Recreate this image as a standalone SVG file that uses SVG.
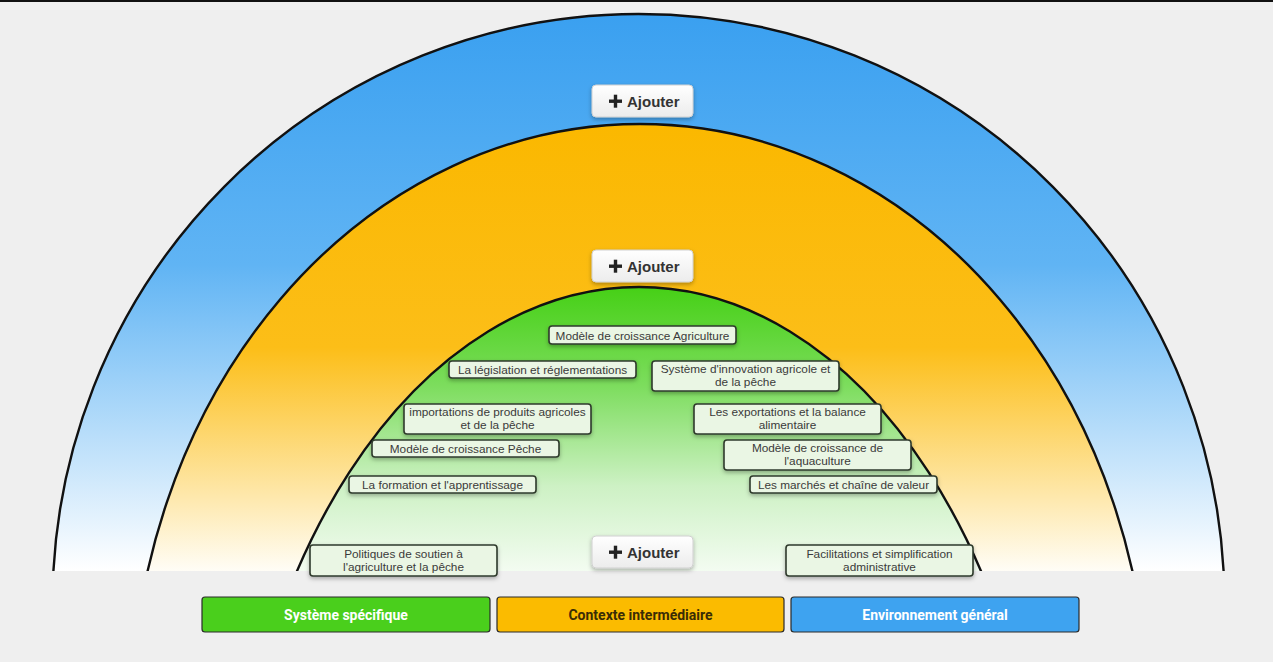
<svg xmlns="http://www.w3.org/2000/svg" width="1273" height="662" viewBox="0 0 1273 662">
  <defs>
    <linearGradient id="gBlue" gradientUnits="userSpaceOnUse" x1="0" y1="14" x2="0" y2="571">
      <stop offset="0" stop-color="#3aa0f0"/>
      <stop offset="0.45" stop-color="#60b4f4"/>
      <stop offset="1" stop-color="#ffffff"/>
    </linearGradient>
    <linearGradient id="gOrange" gradientUnits="userSpaceOnUse" x1="0" y1="124" x2="0" y2="571">
      <stop offset="0" stop-color="#fbb800"/>
      <stop offset="0.5" stop-color="#fcbe18"/>
      <stop offset="1" stop-color="#fffdf6"/>
    </linearGradient>
    <linearGradient id="gGreen" gradientUnits="userSpaceOnUse" x1="0" y1="287" x2="0" y2="571">
      <stop offset="0" stop-color="#46d016"/>
      <stop offset="0.35" stop-color="#7ddd5e"/>
      <stop offset="0.7" stop-color="#cdf1c4"/>
      <stop offset="1" stop-color="#f3fcf1"/>
    </linearGradient>
    <linearGradient id="gBtn" x1="0" y1="0" x2="0" y2="1">
      <stop offset="0" stop-color="#ffffff"/>
      <stop offset="1" stop-color="#ececec"/>
    </linearGradient>
    <clipPath id="clipArc">
      <rect x="0" y="0" width="1273" height="571"/>
    </clipPath>
    <filter id="shadow" x="-10%" y="-30%" width="120%" height="180%">
      <feDropShadow dx="0" dy="2" stdDeviation="2" flood-color="#000" flood-opacity="0.3"/>
    </filter>
  </defs>
  <style>
    .arc { stroke: #111; stroke-width: 2.4; }
    .box { fill: #eaf6e4; stroke: #2e3a2c; stroke-width: 1.6; filter: url(#shadow); }
    .lbl { font-family: "Liberation Sans", Arial, sans-serif; font-size: 11.8px; fill: #3a3a3a; text-anchor: middle; }
    .btn { fill: url(#gBtn); stroke: #d0d0d0; stroke-width: 1; filter: url(#shadow); }
    .btnTxt { font-family: "Liberation Sans", Arial, sans-serif; font-size: 15px; font-weight: bold; fill: #333; }
    .plus { fill: #222; }
    .leg { stroke: #2a2a2a; stroke-width: 1.2; }
    .legTxt { font-family: "Roboto", "Liberation Sans", Arial, sans-serif; font-size: 14px; font-weight: bold; text-anchor: middle; }
  </style>

  <rect x="0" y="0" width="1273" height="662" fill="#efefef"/>
  <rect x="0" y="0" width="1273" height="2" fill="#111"/>

  <g id="layers" clip-path="url(#clipArc)">
    <g id="environnement-general">
      <ellipse class="arc" cx="638.5" cy="604" rx="586" ry="590" fill="url(#gBlue)"/>
    </g>
    <g id="contexte-intermediaire">
      <ellipse class="arc" cx="640" cy="723" rx="509" ry="599" fill="url(#gOrange)"/>
    </g>
    <g id="systeme-specifique">
      <ellipse class="arc" cx="639" cy="921" rx="410" ry="634" fill="url(#gGreen)"/>
    </g>
  </g>

  <g id="connectors"></g>

  <g id="btn-env">
    <rect class="btn" x="592" y="85" width="101" height="32" rx="4"/>
    <rect class="plus" x="609" y="99.5" width="13" height="3.4"/>
    <rect class="plus" x="613.8" y="94.7" width="3.4" height="13"/>
    <text class="btnTxt" x="627" y="106.5">Ajouter</text>
  </g>
  <g id="btn-ctx">
    <rect class="btn" x="592" y="250" width="101" height="32" rx="4"/>
    <rect class="plus" x="609" y="264.5" width="13" height="3.4"/>
    <rect class="plus" x="613.8" y="259.7" width="3.4" height="13"/>
    <text class="btnTxt" x="627" y="271.5">Ajouter</text>
  </g>
  <g id="btn-sys">
    <rect class="btn" x="592" y="536" width="101" height="32" rx="4"/>
    <rect class="plus" x="609" y="550.5" width="13" height="3.4"/>
    <rect class="plus" x="613.8" y="545.7" width="3.4" height="13"/>
    <text class="btnTxt" x="627" y="557.5">Ajouter</text>
  </g>

  <g id="n1">
    <rect class="box" x="549" y="326" width="187" height="18" rx="3"/>
    <text class="lbl" x="642.5" y="339.5">Modèle de croissance Agriculture</text>
  </g>
  <g id="n2">
    <rect class="box" x="449" y="361" width="187" height="17" rx="3"/>
    <text class="lbl" x="542.5" y="374">La législation et réglementations</text>
  </g>
  <g id="n3">
    <rect class="box" x="652" y="361" width="187" height="30" rx="3"/>
    <text class="lbl" x="745.5" y="373">Système d'innovation agricole et</text>
    <text class="lbl" x="745.5" y="386">de la pêche</text>
  </g>
  <g id="n4">
    <rect class="box" x="404" y="404" width="187" height="30" rx="3"/>
    <text class="lbl" x="497.5" y="416">importations de produits agricoles</text>
    <text class="lbl" x="497.5" y="429">et de la pêche</text>
  </g>
  <g id="n5">
    <rect class="box" x="372" y="440" width="187" height="17" rx="3"/>
    <text class="lbl" x="465.5" y="453">Modèle de croissance Pêche</text>
  </g>
  <g id="n6">
    <rect class="box" x="349" y="476" width="187" height="17" rx="3"/>
    <text class="lbl" x="442.5" y="489">La formation et l'apprentissage</text>
  </g>
  <g id="n7">
    <rect class="box" x="694" y="404" width="187" height="30" rx="3"/>
    <text class="lbl" x="787.5" y="416">Les exportations et la balance</text>
    <text class="lbl" x="787.5" y="429">alimentaire</text>
  </g>
  <g id="n8">
    <rect class="box" x="724" y="440" width="187" height="30" rx="3"/>
    <text class="lbl" x="817.5" y="452">Modèle de croissance de</text>
    <text class="lbl" x="817.5" y="465">l'aquaculture</text>
  </g>
  <g id="n9">
    <rect class="box" x="750" y="476" width="187" height="17" rx="3"/>
    <text class="lbl" x="843.5" y="489">Les marchés et chaîne de valeur</text>
  </g>
  <g id="n10">
    <rect class="box" x="310" y="545" width="187" height="31" rx="3"/>
    <text class="lbl" x="403.5" y="557.5">Politiques de soutien à</text>
    <text class="lbl" x="403.5" y="570.5">l'agriculture et la pêche</text>
  </g>
  <g id="n11">
    <rect class="box" x="786" y="545" width="187" height="31" rx="3"/>
    <text class="lbl" x="879.5" y="557.5">Facilitations et simplification</text>
    <text class="lbl" x="879.5" y="570.5">administrative</text>
  </g>

  <g id="legend">
    <g id="leg-sys">
      <rect class="leg" x="202" y="597" width="288" height="35" rx="3" fill="#4acf1c"/>
      <text class="legTxt" x="346" y="619.5" fill="#ffffff">Système spécifique</text>
    </g>
    <g id="leg-ctx">
      <rect class="leg" x="497" y="597" width="287" height="35" rx="3" fill="#fbbb00"/>
      <text class="legTxt" x="640.5" y="619.5" fill="#3a2c05">Contexte intermédiaire</text>
    </g>
    <g id="leg-env">
      <rect class="leg" x="791" y="597" width="288" height="35" rx="3" fill="#3ea3f0"/>
      <text class="legTxt" x="935" y="619.5" fill="#ffffff">Environnement général</text>
    </g>
  </g>
</svg>
